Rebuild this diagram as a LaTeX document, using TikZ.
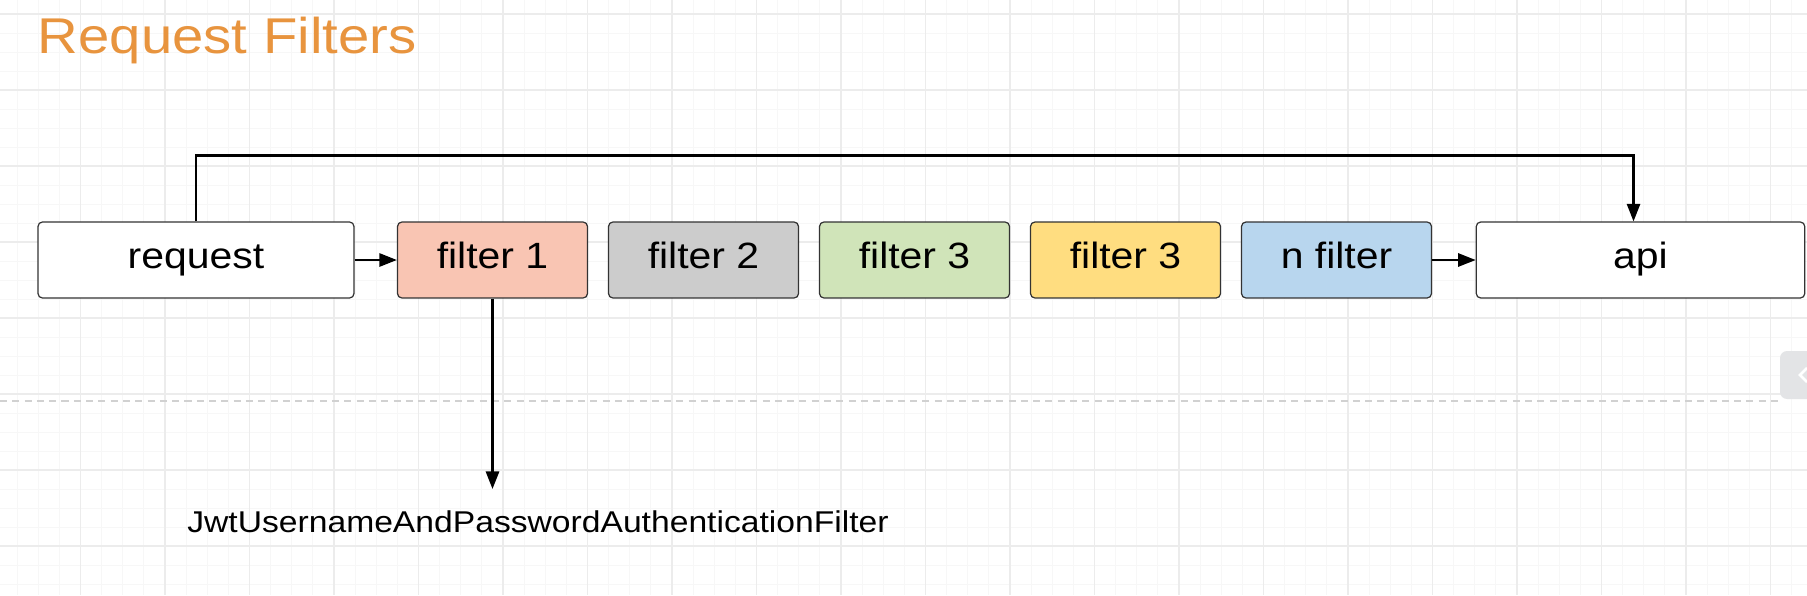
\documentclass[tikz,border=0pt]{standalone}
\usepackage{fontspec}
\setmainfont{Liberation Sans}[FakeStretch=1.12]
\usepackage{xcolor}
\usepackage{tikz}
\usetikzlibrary{
    calc,
    arrows.meta
}
\definecolor{titlecol}{RGB}{232,148,62}
\definecolor{salmoncol}{RGB}{249,197,179}
\definecolor{greycol}{RGB}{204,204,204}
\definecolor{greencol}{RGB}{208,228,185}
\definecolor{yellowcol}{RGB}{255,221,128}
\definecolor{bluecol}{RGB}{184,214,238}
\definecolor{gridmajor}{RGB}{236,236,236}
\definecolor{gridminor}{RGB}{247,247,247}
\definecolor{tabcol}{RGB}{227,228,230}
\tikzset{
    box/.style={draw=black!80, line width=0.7pt, rounded corners=2.5pt,
        minimum height=1.52cm, minimum width=3.8cm, inner sep=0pt,
        text height=15.6pt, text depth=6pt,
        font=\fontsize{20.8}{25}\selectfont},
    endbox/.style={box, fill=white},
    minorline/.style={gridminor, line width=0.5pt},
    majorline/.style={gridmajor, line width=0.7pt},
}

\begin{document}
\begin{tikzpicture}[x=0.02cm, y=-0.02cm, >={Triangle[length=10pt, width=7.5pt]}, line width=1.3pt]
        \useasboundingbox (0,0) rectangle (1807,595);
        \fill[white] (0,0) rectangle (1807,595);

        % background grid
        \foreach \i in {0,...,85}
            \draw[minorline] ({17.1+21.125*\i},0) -- ++(0,595);
        \foreach \j in {0,...,31}
            \draw[minorline] (0,{14+19*\j}) -- ++(1807,0);
        \foreach \i in {0,...,20}
            \draw[majorline] ({80.5+84.5*\i},0) -- ++(0,595);
        \foreach \j in {0,...,7}
            \draw[majorline] (0,{14+76*\j}) -- ++(1807,0);
        \draw[black!18, line width=0.6pt, dash pattern=on 4pt off 3pt] (0,401) -- (1780,401);
        \fill[tabcol, rounded corners=4pt] (1780,351) rectangle (1815,399);
        \draw[white, line width=1.5pt] (1807,368) -- (1800,375) -- (1807,382);

        \draw (31,53) node[anchor=base west, text=titlecol,
            font=\fontsize{28.6}{34}\selectfont](title){Request Filters};

        \begin{scope}
            \draw (196,260)    node[endbox, minimum width=6.32cm](req){request};
            \draw (492.5,260)  node[box, fill=salmoncol](f1){filter 1};
            \draw (703.5,260)  node[box, fill=greycol](f2){filter 2};
            \draw (914.5,260)  node[box, fill=greencol](f3){filter 3};
            \draw (1125.5,260) node[box, fill=yellowcol](f4){filter 3};
            \draw (1336.5,260) node[box, fill=bluecol](fn){n filter};
            \draw (1640.5,260) node[endbox, minimum width=6.57cm](api){api};
        \end{scope}

        \draw[->] (req) to (f1);
        \draw[->] (fn) to (api);
        \draw[->] (req.north) -- ++(0,-66) -| ($(api.north)+(-7,0)$);

        \draw (538,522) node[font=\fontsize{17.1}{20}\selectfont](jwt){JwtUsernameAndPasswordAuthenticationFilter};
        \coordinate (jwtin) at (492.5,489);
        \draw[->] (f1) to (jwtin);
    \end{tikzpicture}
\end{document}
